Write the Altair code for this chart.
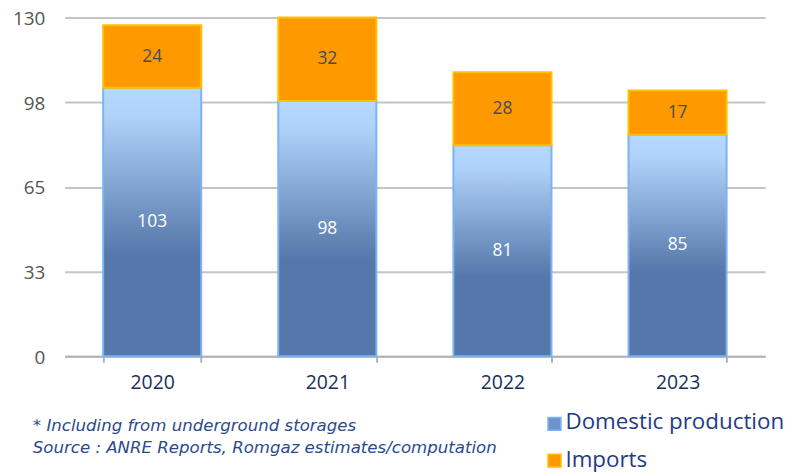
import altair as alt
import pandas as pd

years = ["2020", "2021", "2022", "2023"]
domestic = [103, 98, 81, 85]
imports = [24, 32, 28, 17]
y_ticks = [0, 32.5, 65, 97.5, 130]
footnotes = ["* Including from underground storages",
             "Source : ANRE Reports, Romgaz estimates/computation"]
legend_labels = ["Domestic production", "Imports"]

df = pd.DataFrame({"year": years, "domestic": domestic, "imports": imports})
df["total"] = df["domestic"] + df["imports"]
df["dom_mid"] = df["domestic"] / 2
df["imp_mid"] = df["domestic"] + df["imports"] / 2

FONT = "Open Sans"

x_enc = alt.X("year:N", title=None, sort=years,
              scale=alt.Scale(paddingInner=0.44, paddingOuter=0.22),
              axis=alt.Axis(labelAngle=0, labelFontSize=19.5, labelColor="#1b2f58",
                            labelFont=FONT, labelPadding=11, domainColor="#b3b3b3",
                            domainWidth=2, tickColor="#b3b3b3", tickWidth=2, tickSize=6,
                            tickBand="extent", grid=False))
y_scale = alt.Scale(domain=[0, 130], nice=False)
y_axis = alt.Axis(values=y_ticks, labelExpr="round(datum.value)", title=None,
                  labelFontSize=19, labelColor="#555555", labelFont=FONT,
                  domain=False, ticks=False, labelPadding=20, labelOffset=1,
                  gridColor="#c4c4c4", gridWidth=2)

gradient = alt.Gradient(gradient="linear", x1=0, y1=0, x2=0, y2=1,
                        stops=[alt.GradientStop(color="#b4d8ff", offset=0),
                               alt.GradientStop(color="#b0d3fb", offset=0.1),
                               alt.GradientStop(color="#5577aa", offset=0.62),
                               alt.GradientStop(color="#5577aa", offset=1)])

base = alt.Chart(df)

dom_bar = base.mark_bar(fill=gradient, stroke="#7ab4f5", strokeWidth=2).encode(
    x=x_enc,
    y=alt.Y("domestic:Q", scale=y_scale, axis=y_axis),
    y2=alt.datum(0),
)
imp_bar = base.mark_bar(fill="#ff9900", stroke="#ffc000", strokeWidth=2).encode(
    x=x_enc,
    y=alt.Y("domestic:Q", scale=y_scale),
    y2="total:Q",
)
dom_text = base.mark_text(color="white", fontSize=17.5, font=FONT).encode(
    x=x_enc, y=alt.Y("dom_mid:Q", scale=y_scale), text="domestic:Q")
imp_text = base.mark_text(color="#4a4a5c", fontSize=17.5, font=FONT).encode(
    x=x_enc, y=alt.Y("imp_mid:Q", scale=y_scale), text="imports:Q")


def text_item(txt, x, y, **kw):
    return alt.Chart(pd.DataFrame({"t": [txt]})).mark_text(
        align="left", baseline="middle", **kw).encode(
        x=alt.value(x), y=alt.value(y), text="t:N")


def square_item(color, stroke, x, y):
    return alt.Chart(pd.DataFrame({"t": [0]})).mark_square(
        size=170, opacity=1, fill=color, stroke=stroke, strokeWidth=1.5).encode(
        x=alt.value(x), y=alt.value(y))


foot_kw = dict(fontStyle="italic", fontSize=16.7, color="#2b4a8c", font="DejaVu Sans")
foot1 = text_item(footnotes[0], -32, 411, **foot_kw)
foot2 = text_item(footnotes[1], -32, 433, **foot_kw)

leg_kw = dict(fontSize=22.5, color="#1f3b86", font=FONT)
sq1 = square_item("#6f93c8", "#7ab4f5", 493, 409)
sq2 = square_item("#ff9900", "#ffc000", 493, 446)
lt1 = text_item(legend_labels[0], 504, 407, **leg_kw)
lt2 = text_item(legend_labels[1], 504, 445, **leg_kw)

chart = alt.layer(dom_bar, imp_bar, dom_text, imp_text,
                  foot1, foot2, sq1, sq2, lt1, lt2).properties(
    width=705, height=341,
    autosize=alt.AutoSizeParams(type="none"),
    padding={"left": 57, "top": 8, "right": 20, "bottom": 130},
).configure_view(stroke=None)

chart.save("out.html", embed_options={"renderer": "svg", "actions": False})
